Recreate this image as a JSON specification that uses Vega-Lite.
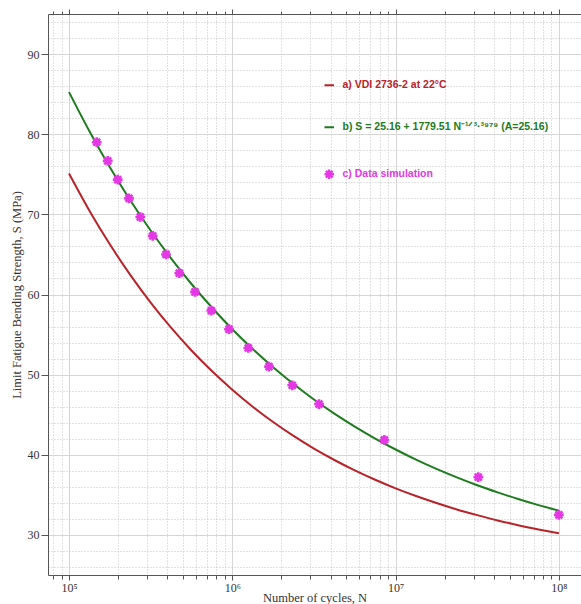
{
  "$schema": "https://vega.github.io/schema/vega-lite/v6.json",
  "width": 533,
  "height": 561,
  "autosize": {"type": "none"},
  "padding": {"left": 48, "top": 14, "right": 0, "bottom": 29},
  "background": "white",
  "config": {
    "view": {"stroke": null},
    "axis": {
      "labelFont": "Liberation Serif",
      "labelFontSize": 12,
      "labelColor": "#333333",
      "titleFont": "Liberation Serif",
      "titleFontSize": 12.5,
      "titleFontWeight": "normal",
      "titleColor": "#333333",
      "domainColor": "#555555",
      "tickColor": "#555555",
      "labelOverlap": false,
      "labelBound": false,
      "labelFlush": false
    }
  },
  "datasets": {
    "curves": [
      {"series": "a", "N": 100000, "S": 75.10},
      {"series": "a", "N": 133352, "S": 70.46},
      {"series": "a", "N": 177828, "S": 66.26},
      {"series": "a", "N": 237137, "S": 62.45},
      {"series": "a", "N": 316228, "S": 58.99},
      {"series": "a", "N": 421697, "S": 55.86},
      {"series": "a", "N": 562341, "S": 53.02},
      {"series": "a", "N": 749894, "S": 50.45},
      {"series": "a", "N": 1000000, "S": 48.12},
      {"series": "a", "N": 1333521, "S": 46.00},
      {"series": "a", "N": 1778279, "S": 44.09},
      {"series": "a", "N": 2371374, "S": 42.35},
      {"series": "a", "N": 3162278, "S": 40.77},
      {"series": "a", "N": 4216965, "S": 39.35},
      {"series": "a", "N": 5623413, "S": 38.05},
      {"series": "a", "N": 7498942, "S": 36.88},
      {"series": "a", "N": 10000000, "S": 35.81},
      {"series": "a", "N": 13335214, "S": 34.85},
      {"series": "a", "N": 17782794, "S": 33.98},
      {"series": "a", "N": 23713737, "S": 33.18},
      {"series": "a", "N": 31622777, "S": 32.47},
      {"series": "a", "N": 42169650, "S": 31.81},
      {"series": "a", "N": 56234133, "S": 31.22},
      {"series": "a", "N": 74989421, "S": 30.69},
      {"series": "a", "N": 100000000, "S": 30.20},
      {"series": "b", "N": 100000, "S": 85.25},
      {"series": "b", "N": 133352, "S": 80.37},
      {"series": "b", "N": 177828, "S": 75.88},
      {"series": "b", "N": 237137, "S": 71.77},
      {"series": "b", "N": 316228, "S": 67.98},
      {"series": "b", "N": 421697, "S": 64.51},
      {"series": "b", "N": 562341, "S": 61.31},
      {"series": "b", "N": 749894, "S": 58.38},
      {"series": "b", "N": 1000000, "S": 55.67},
      {"series": "b", "N": 1333521, "S": 53.20},
      {"series": "b", "N": 1778279, "S": 50.92},
      {"series": "b", "N": 2371374, "S": 48.83},
      {"series": "b", "N": 3162278, "S": 46.90},
      {"series": "b", "N": 4216965, "S": 45.14},
      {"series": "b", "N": 5623413, "S": 43.52},
      {"series": "b", "N": 7498942, "S": 42.03},
      {"series": "b", "N": 10000000, "S": 40.66},
      {"series": "b", "N": 13335214, "S": 39.40},
      {"series": "b", "N": 17782794, "S": 38.24},
      {"series": "b", "N": 23713737, "S": 37.18},
      {"series": "b", "N": 31622777, "S": 36.20},
      {"series": "b", "N": 42169650, "S": 35.31},
      {"series": "b", "N": 56234133, "S": 34.48},
      {"series": "b", "N": 74989421, "S": 33.72},
      {"series": "b", "N": 100000000, "S": 33.03}
    ],
    "sim": [
      {"series": "c", "N": 147800, "S": 79.0},
      {"series": "c", "N": 172600, "S": 76.67},
      {"series": "c", "N": 198700, "S": 74.33},
      {"series": "c", "N": 233000, "S": 72.0},
      {"series": "c", "N": 273300, "S": 69.67},
      {"series": "c", "N": 325400, "S": 67.33},
      {"series": "c", "N": 392600, "S": 65.0},
      {"series": "c", "N": 473600, "S": 62.67},
      {"series": "c", "N": 590900, "S": 60.33},
      {"series": "c", "N": 743600, "S": 58.0},
      {"series": "c", "N": 954600, "S": 55.67},
      {"series": "c", "N": 1253000, "S": 53.33},
      {"series": "c", "N": 1678000, "S": 51.0},
      {"series": "c", "N": 2330000, "S": 48.67},
      {"series": "c", "N": 3396000, "S": 46.33},
      {"series": "c", "N": 8530000, "S": 41.85},
      {"series": "c", "N": 32100000, "S": 37.2},
      {"series": "c", "N": 100000000, "S": 32.5}
    ]
  },
  "layer": [
    {
      "data": {"name": "curves"},
      "mark": {"type": "line", "strokeWidth": 2, "interpolate": "monotone"},
      "encoding": {
        "x": {
          "field": "N",
          "type": "quantitative",
          "scale": {"type": "log", "domain": [74350, 136560000], "nice": false, "zero": false},
          "axis": {
            "orient": "bottom",
            "title": "Number of cycles, N",
            "titlePadding": -2,
            "values": [80000, 90000, 100000, 200000, 300000, 400000, 500000, 600000, 700000, 800000, 900000, 1000000, 2000000, 3000000, 4000000, 5000000, 6000000, 7000000, 8000000, 9000000, 10000000, 20000000, 30000000, 40000000, 50000000, 60000000, 70000000, 80000000, 90000000, 100000000],
            "labelExpr": "datum.value == 100000 ? '10⁵' : datum.value == 1000000 ? '10⁶' : datum.value == 10000000 ? '10⁷' : datum.value == 100000000 ? '10⁸' : ''",
            "labelPadding": 2,
            "grid": true,
            "gridColor": {"condition": {"test": "datum.value == 100000 || datum.value == 1000000 || datum.value == 10000000 || datum.value == 100000000", "value": "#d6d6d6"}, "value": "#c4c4c4"},
            "gridDash": {"condition": {"test": "datum.value == 100000 || datum.value == 1000000 || datum.value == 10000000 || datum.value == 100000000", "value": []}, "value": [1, 2]},
            "tickSize": {"condition": {"test": "datum.value == 100000 || datum.value == 1000000 || datum.value == 10000000 || datum.value == 100000000", "value": 5}, "value": 4}
          }
        },
        "y": {
          "field": "S",
          "type": "quantitative",
          "scale": {"domain": [25, 95], "nice": false, "zero": false},
          "axis": {
            "orient": "left",
            "title": "Limit Fatigue Bending Strength, S (MPa)",
            "titlePadding": 4,
            "values": [26, 28, 30, 32, 34, 36, 38, 40, 42, 44, 46, 48, 50, 52, 54, 56, 58, 60, 62, 64, 66, 68, 70, 72, 74, 76, 78, 80, 82, 84, 86, 88, 90, 92, 94],
            "labelExpr": "datum.value % 10 == 0 ? datum.label : ''",
            "labelPadding": 2,
            "grid": true,
            "gridColor": {"condition": {"test": "datum.value % 10 == 0", "value": "#d6d6d6"}, "value": "#c4c4c4"},
            "gridDash": {"condition": {"test": "datum.value % 10 == 0", "value": []}, "value": [1, 2]},
            "tickSize": {"condition": {"test": "datum.value % 10 == 0", "value": 7}, "value": 0}
          }
        },
        "color": {
          "field": "series",
          "type": "nominal",
          "scale": {"domain": ["a", "b", "c"], "range": ["#b8232a", "#1e7b1e", "#e338e3"]},
          "legend": {
            "orient": "none",
            "legendX": 276,
            "legendY": 66,
            "title": null,
            "padding": 0,
            "rowPadding": 31,
            "labelOffset": 8,
            "labelLimit": 400,
            "labelFont": "Liberation Sans",
            "labelFontSize": 10.5,
            "labelFontWeight": "bold",
            "symbolSize": 90,
            "symbolStrokeWidth": 2,
            "labelExpr": "datum.value == 'a' ? 'a) VDI 2736-2 at 22°C' : datum.value == 'b' ? 'b) S = 25.16 + 1779.51 N⁻¹ᐟ³·³⁹⁷⁹ (A=25.16)' : 'c) Data simulation'",
            "encode": {
              "symbols": {
                "update": {
                  "shape": {"signal": "datum.value == 'c' ? 'M-1,0L1,0M0,-1L0,1M-0.71,-0.71L0.71,0.71M-0.71,0.71L0.71,-0.71' : 'stroke'"},
                  "stroke": {"signal": "datum.value == 'a' ? '#b8232a' : datum.value == 'b' ? '#1e7b1e' : '#e338e3'"},
                  "fill": {"value": "transparent"},
                  "strokeWidth": {"signal": "datum.value == 'c' ? 2.4 : 2"}
                }
              },
              "labels": {
                "update": {
                  "fill": {"signal": "datum.value == 'a' ? '#b8232a' : datum.value == 'b' ? '#1e7b1e' : '#e338e3'"}
                }
              }
            }
          }
        }
      }
    },
    {
      "data": {"name": "sim"},
      "mark": {
        "type": "point",
        "filled": false,
        "shape": "M-1,0L1,0M0,-1L0,1M-0.71,-0.71L0.71,0.71M-0.71,0.71L0.71,-0.71",
        "size": 95,
        "strokeWidth": 2.6,
        "opacity": 1
      },
      "encoding": {
        "x": {
          "field": "N",
          "type": "quantitative",
          "axis": {
            "orient": "top",
            "title": null,
            "labels": false,
            "grid": false,
            "values": [80000, 90000, 100000, 200000, 300000, 400000, 500000, 600000, 700000, 800000, 900000, 1000000, 2000000, 3000000, 4000000, 5000000, 6000000, 7000000, 8000000, 9000000, 10000000, 20000000, 30000000, 40000000, 50000000, 60000000, 70000000, 80000000, 90000000, 100000000],
            "tickSize": {"condition": {"test": "datum.value == 100000 || datum.value == 1000000 || datum.value == 10000000 || datum.value == 100000000", "value": 5}, "value": 3}
          }
        },
        "y": {
          "field": "S",
          "type": "quantitative",
          "axis": {
            "orient": "left",
            "title": "Limit Fatigue Bending Strength, S (MPa)",
            "titlePadding": 4,
            "values": [26, 28, 30, 32, 34, 36, 38, 40, 42, 44, 46, 48, 50, 52, 54, 56, 58, 60, 62, 64, 66, 68, 70, 72, 74, 76, 78, 80, 82, 84, 86, 88, 90, 92, 94],
            "labelExpr": "datum.value % 10 == 0 ? datum.label : ''",
            "labelPadding": 2,
            "grid": true,
            "gridColor": {"condition": {"test": "datum.value % 10 == 0", "value": "#d6d6d6"}, "value": "#c4c4c4"},
            "gridDash": {"condition": {"test": "datum.value % 10 == 0", "value": []}, "value": [1, 2]},
            "tickSize": {"condition": {"test": "datum.value % 10 == 0", "value": 7}, "value": 0}
          }
        },
        "color": {"field": "series", "type": "nominal"}
      }
    }
  ]
}
